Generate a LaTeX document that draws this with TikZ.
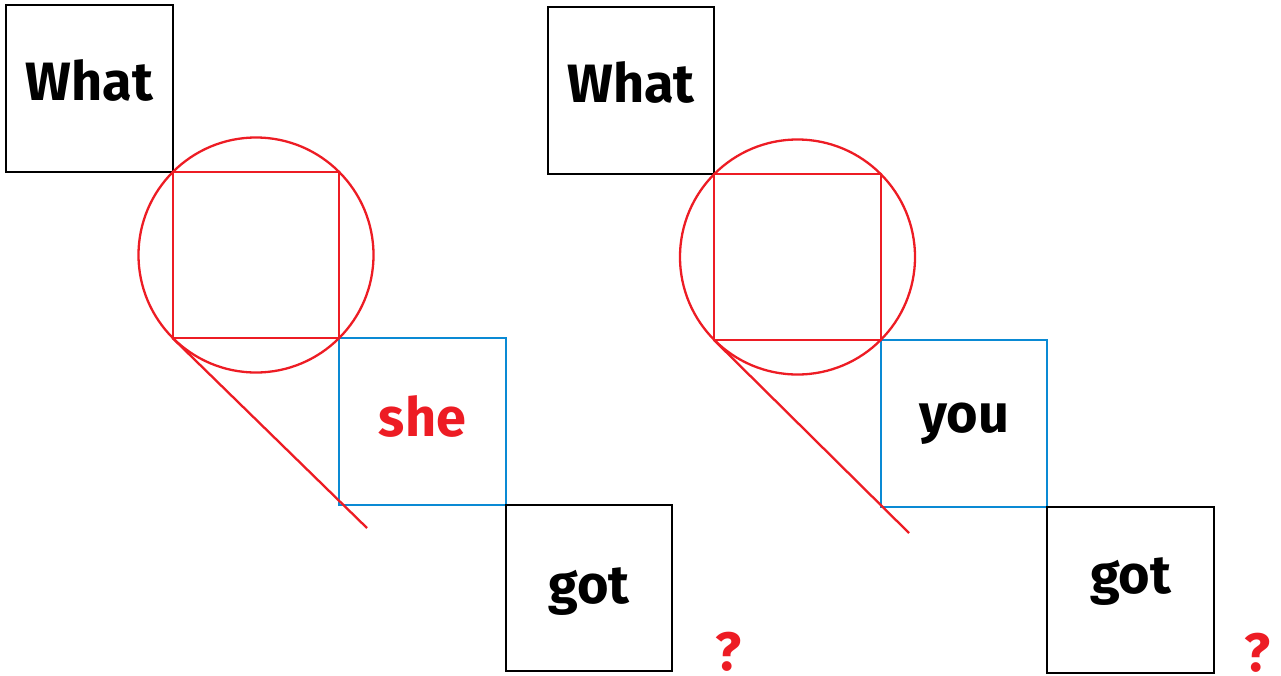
\documentclass[tikz,border=0pt]{standalone}
\usepackage{fontspec}
\setmainfont{Fira Sans}
\usepackage{xcolor}
\usepackage{tikz}
\usetikzlibrary{positioning}

\definecolor{markred}{HTML}{ED1C24}
\definecolor{slotblue}{HTML}{0A8AD4}

\begin{document}
\begin{tikzpicture}[
    x=1pt, y=-1pt,
    wordbox/.style={rectangle, draw=black, line width=2.3pt, outer sep=0pt, inner sep=0pt, minimum size=166.5pt, align=center, font=\fontsize{54}{58}\selectfont\bfseries, text height=40pt, text depth=#1},
    wordbox/.default=17pt,
    gapbox/.style={wordbox=#1, draw=markred},
    slotbox/.style={wordbox=#1, draw=slotblue},
    qmark/.style={inner sep=0pt, anchor=base, text=markred, font=\fontsize{54}{58}\selectfont\bfseries},
    redline/.style={draw=markred, line width=2.3pt}
]
    \useasboundingbox (0, 0) rectangle (1281, 675);

    % left sentence
    \node [wordbox=17pt] (whatL) at (89.5, 88.5) {What};
    \node [gapbox=17pt, below right=0pt and 0pt of whatL] (gapL) {};
    \node [slotbox=11pt, below right=0pt and 0pt of gapL, text=markred] (sheL) {she};
    \node [wordbox=10pt, below right=0pt and 0pt of sheL] (gotL) {got};
    \node [qmark] (qL) at (728.5, 670) {?};
    \coordinate (tailL) at (367, 528);
    \draw [redline] (gapL.south west) -- (tailL);
    \draw [redline] (gapL.center) circle [radius=117.5];

    % right sentence
    \node [wordbox=17pt] (whatR) at (631, 90.5) {What};
    \node [gapbox=17pt, below right=0pt and 0pt of whatR] (gapR) {};
    \node [slotbox=23pt, below right=0pt and 0pt of gapR] (youR) {you};
    \node [wordbox=33pt, below right=0pt and 0pt of youR] (gotR) {got};
    \node [qmark] (qR) at (1257, 671) {?};
    \coordinate (tailR) at (909, 533);
    \draw [redline] (gapR.south west) -- (tailR);
    \draw [redline] (gapR.center) circle [radius=117.5];
\end{tikzpicture}
\end{document}
